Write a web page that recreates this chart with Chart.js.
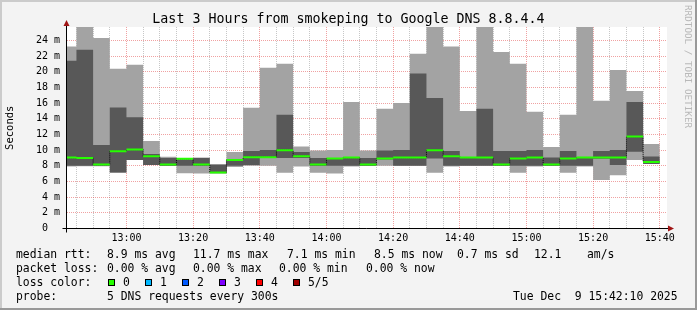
<!DOCTYPE html>
<html>
<head>
<meta charset="utf-8">
<script src="https://cdn.jsdelivr.net/npm/chart.js@4.4.1/dist/chart.umd.min.js"></script>
<style>
  html, body { margin: 0; padding: 0; background: #f3f3f3; }
  #wrap { position: relative; width: 697px; height: 310px; overflow: hidden; font-family: "DejaVu Sans Mono", monospace; color: #000; }
  #wrap canvas { position: absolute; left: 0; top: 0; }
  .t { position: absolute; white-space: pre; font-size: 11.4px; line-height: 14px; }
  #title { position: absolute; left: 0; top: 11px; width: 697px; text-align: center; font-size: 13.3px; line-height: 16px; white-space: pre; }
  #credit { position: absolute; left: 683px; top: 5px; writing-mode: vertical-rl; font-size: 9.3px; color: #b8b8b8; white-space: pre; }
  .box { position: absolute; top: 279px; width: 5px; height: 5px; border: 1px solid #000; }
</style>
</head>
<body>
<div id="wrap">
  <canvas id="smoke" width="697" height="310"></canvas>
  <div id="title">Last 3 Hours from smokeping to Google DNS 8.8.4.4</div>
  <div id="credit">RRDTOOL / TOBI OETIKER</div>
  <div id="legend"></div>
</div>
<script>
// Time window of the graph (rrd end = 15:42:10)
const axisStart = '12:42:10';
const axisEnd = '15:42:10';

// Each bar is one 5 minute step, labelled by its end time
const slotEnd = ['12:45', '12:50', '12:55', '13:00', '13:05', '13:10', '13:15', '13:20', '13:25',
    '13:30', '13:35', '13:40', '13:45', '13:50', '13:55', '14:00', '14:05', '14:10', '14:15',
    '14:20', '14:25', '14:30', '14:35', '14:40', '14:45', '14:50', '14:55', '15:00', '15:05',
    '15:10', '15:15', '15:20', '15:25', '15:30', '15:35', '15:40'];

// Sorted pings per step, in ms (min, 2nd, median, 4th, max)
const pingMin = [7.9, 7.95, 7.95, 7.1, 8.75, 8.1, 8.0, 7.05, 7.0, 7.05, 7.85, 8.0, 8.0, 7.1, 7.9, 7.1, 7.0, 7.9,
    8.0, 8.0, 8.0, 8.0, 7.1, 7.9, 8.0, 8.0, 8.0, 7.1, 7.9, 8.0, 7.1, 7.9, 6.2, 6.8, 8.75, 8.23];
const pingLow = [8.0, 8.0, 8.0, 7.13, 8.75, 8.1, 8.0, 8.0, 8.0, 7.05, 8.0, 8.1, 9.0, 9.0, 9.0, 8.0, 8.0, 8.0,
    8.0, 8.8, 8.0, 8.0, 8.93, 8.0, 8.0, 8.0, 8.0, 8.0, 8.0, 8.0, 8.0, 8.0, 8.9, 8.1, 9.8, 8.23];
const median = [9.04, 9.0, 8.15, 9.85, 10.07, 9.2, 8.15, 8.9, 8.15, 7.15, 8.75, 9.08, 9.08, 9.98, 9.2, 8.15, 8.93, 9.04,
    8.15, 8.93, 9.04, 9.04, 9.98, 9.2, 9.05, 9.06, 8.15, 8.93, 9.06, 8.15, 8.93, 9.06, 9.06, 9.06, 11.72, 8.49];
const pingHigh = [21.4, 22.8, 10.66, 15.43, 14.2, 9.5, 9.0, 8.8, 9.0, 8.15, 8.8, 9.9, 10.0, 14.5, 9.77, 9.0, 9.0, 9.1,
    9.0, 9.94, 10.0, 19.77, 16.66, 9.9, 9.1, 15.26, 9.9, 9.9, 10.0, 9.06, 9.9, 9.1, 9.9, 10.0, 16.15, 9.17];
const pingMax = [23.2, 28.0, 24.3, 20.36, 20.9, 11.17, 9.15, 9.0, 9.04, 8.15, 9.77, 15.4, 20.5, 21.0, 10.45, 9.94, 10.0, 16.15,
    9.94, 15.26, 16.0, 22.28, 28.0, 23.2, 15.0, 28.0, 22.5, 21.0, 14.9, 10.4, 14.5, 28.0, 16.28, 20.23, 17.55, 10.79];

// Axis ticks
const yMax = 25.7;
const yMajor = [0, 2, 4, 6, 8, 10, 12, 14, 16, 18, 20, 22, 24];
const yLabels = ['0  ', '2 m', '4 m', '6 m', '8 m', '10 m', '12 m', '14 m', '16 m', '18 m', '20 m', '22 m', '24 m'];
const yMinor = [1, 3, 5, 7, 9, 11, 13, 15, 17, 19, 21, 23, 25];
const xMajor = ['13:00', '13:20', '13:40', '14:00', '14:20', '14:40', '15:00', '15:20', '15:40'];
const xMinor = ['12:45', '12:50', '12:55', '13:05', '13:10', '13:15', '13:25', '13:30', '13:35', '13:45', '13:50', '13:55',
    '14:05', '14:10', '14:15', '14:25', '14:30', '14:35', '14:45', '14:50', '14:55', '15:05', '15:10', '15:15',
    '15:25', '15:30', '15:35'];

// Legend block
const legendRows = [
    { y: 247, parts: [[16, 'median rtt:'], [107, '8.9 ms avg'], [193, '11.7 ms max'], [287, '7.1 ms min'],
        [374, '8.5 ms now'], [457, '0.7 ms sd'], [534, '12.1'], [587, 'am/s']] },
    { y: 261, parts: [[16, 'packet loss:'], [107, '0.00 % avg'], [193, '0.00 % max'], [279, '0.00 % min'], [366, '0.00 % now']] },
    { y: 275, parts: [[16, 'loss color:']] },
    { y: 289, parts: [[16, 'probe:'], [107, '5 DNS requests every 300s'], [513, 'Tue Dec  9 15:42:10 2025']] }
];
const lossLabels = ['0', '1', '2', '3', '4', '5/5'];
const lossColors = ['#26ff00', '#00b8ff', '#0059ff', '#7e00ff', '#ff0000', '#a10000'];

const FONT = '"DejaVu Sans Mono", monospace';
const MAJOR = 'rgba(222, 48, 48, 0.45)';
const MINOR = 'rgba(143, 143, 143, 0.5)';

function toMin(s) {
    const p = s.split(':').map(Number);
    return p[0] * 60 + p[1] + (p[2] || 0) / 60;
}

/* ------------------ STEP SHAPES ------------------ */
function band(values) {
    const pts = [];
    values.forEach((v, i) => {
        const start = i === 0 ? toMin(axisStart) : toMin(slotEnd[i - 1]);
        pts.push({ x: start, y: v }, { x: toMin(slotEnd[i]), y: v });
    });
    return pts;
}

// same steps but with breaks, so only the flat parts get drawn
function flats(values) {
    const pts = [];
    values.forEach((v, i) => {
        const start = i === 0 ? toMin(axisStart) : toMin(slotEnd[i - 1]);
        const end = toMin(slotEnd[i]);
        pts.push({ x: start, y: v }, { x: end, y: v }, { x: end, y: null });
    });
    return pts;
}

/* ------------------ FRAME / AXES ------------------ */
const rrdFrame = {
    id: 'rrdFrame',
    beforeDraw(chart) {
        const { ctx, width, height, chartArea: a } = chart;
        ctx.save();
        ctx.fillStyle = '#f3f3f3';
        ctx.fillRect(0, 0, width, height);
        ctx.fillStyle = '#cbcbcb';
        ctx.fillRect(0, 0, width, 2);
        ctx.fillRect(0, 0, 2, height);
        ctx.fillStyle = '#999999';
        ctx.fillRect(0, height - 2, width, 2);
        ctx.fillRect(width - 2, 0, 2, height);
        ctx.fillStyle = '#ffffff';
        ctx.fillRect(a.left, a.top, a.right - a.left, a.bottom - a.top);
        ctx.restore();
    },
    afterDraw(chart) {
        const { ctx, chartArea: a } = chart;
        const x0 = Math.round(a.left) - 0.5;
        const y0 = Math.round(a.bottom) - 0.5;
        ctx.save();
        ctx.strokeStyle = '#000';
        ctx.lineWidth = 1;
        ctx.beginPath();
        ctx.moveTo(x0, y0 + 4);
        ctx.lineTo(x0, a.top - 5);
        ctx.moveTo(x0 - 4, y0);
        ctx.lineTo(a.right + 3, y0);
        ctx.stroke();
        ctx.fillStyle = '#a01515';
        ctx.beginPath();
        ctx.moveTo(x0, a.top - 7);
        ctx.lineTo(x0 - 3, a.top - 1);
        ctx.lineTo(x0 + 3, a.top - 1);
        ctx.closePath();
        ctx.fill();
        ctx.beginPath();
        ctx.moveTo(a.right + 7, y0);
        ctx.lineTo(a.right + 1, y0 - 3);
        ctx.lineTo(a.right + 1, y0 + 3);
        ctx.closePath();
        ctx.fill();
        ctx.restore();
    }
};

/* ------------------ LEGEND ------------------ */
const legendEl = document.getElementById('legend');
legendRows.forEach(row => {
    row.parts.forEach(([x, text]) => {
        const s = document.createElement('div');
        s.className = 't';
        s.style.left = x + 'px';
        s.style.top = row.y + 'px';
        s.textContent = text;
        legendEl.appendChild(s);
    });
});
lossLabels.forEach((label, i) => {
    const b = document.createElement('div');
    b.className = 'box';
    b.style.left = (108 + i * 37) + 'px';
    b.style.background = lossColors[i];
    legendEl.appendChild(b);
    const s = document.createElement('div');
    s.className = 't';
    s.style.left = (123 + i * 37) + 'px';
    s.style.top = '275px';
    s.textContent = label;
    legendEl.appendChild(s);
});

/* ------------------ CHART ------------------ */
const hidden = { borderColor: 'transparent', borderWidth: 0, pointRadius: 0 };

new Chart(document.getElementById('smoke'), {
    type: 'line',
    data: {
        datasets: [
            { label: 'min', data: band(pingMin), ...hidden, fill: false, order: 6 },
            { label: 'max', data: band(pingMax), ...hidden, fill: 0, backgroundColor: '#a3a3a3', order: 5 },
            { label: 'low', data: band(pingLow), ...hidden, fill: false, order: 4 },
            { label: 'high', data: band(pingHigh), ...hidden, fill: 2, backgroundColor: '#585858', order: 3 },
            { label: 'median', data: band(median), borderColor: '#000', borderWidth: 1, borderDash: [1, 1], pointRadius: 0, fill: false, order: 2 },
            { label: 'median loss 0', data: flats(median), borderColor: '#26ff00', borderWidth: 2, pointRadius: 0, fill: false, spanGaps: false, order: 1 }
        ]
    },
    options: {
        responsive: false,
        animation: false,
        devicePixelRatio: 1,
        events: [],
        layout: { padding: { top: 27, right: 30, bottom: 59.5, left: 0 } },
        plugins: {
            legend: { display: false },
            tooltip: { enabled: false },
            title: { display: false }
        },
        scales: {
            x: {
                type: 'linear',
                min: toMin(axisStart),
                max: toMin(axisEnd),
                afterBuildTicks: s => {
                    s.ticks = xMajor.concat(xMinor).map(t => ({ value: toMin(t) })).sort((a, b) => a.value - b.value);
                },
                afterFit: s => { s.height = 22; },
                grid: {
                    color: c => (c.tick && xMajor.some(t => toMin(t) === c.tick.value)) ? MAJOR : MINOR,
                    lineWidth: 1,
                    drawTicks: true,
                    tickLength: 2,
                    tickColor: 'transparent'
                },
                border: { display: false, dash: [1, 1] },
                ticks: {
                    autoSkip: false,
                    maxRotation: 0,
                    padding: 2,
                    color: '#000',
                    font: { family: FONT, size: 10 },
                    callback: v => xMajor.find(t => toMin(t) === v) || ''
                }
            },
            y: {
                type: 'linear',
                min: 0,
                max: yMax,
                afterBuildTicks: s => {
                    s.ticks = yMajor.concat(yMinor).sort((a, b) => a - b).map(v => ({ value: v }));
                },
                afterFit: s => { s.width = 67; },
                grid: {
                    color: c => (c.tick && yMajor.includes(c.tick.value)) ? MAJOR : MINOR,
                    lineWidth: 1,
                    drawTicks: true,
                    tickLength: 3,
                    tickColor: 'transparent'
                },
                border: { display: false, dash: [1, 1] },
                ticks: {
                    padding: 4,
                    color: '#000',
                    font: { family: FONT, size: 10 },
                    callback: v => {
                        const i = yMajor.indexOf(v);
                        return i >= 0 ? yLabels[i] : '';
                    }
                },
                title: {
                    display: true,
                    text: 'Seconds',
                    color: '#000',
                    font: { family: FONT, size: 10.5 },
                    padding: { top: 4, bottom: 0 }
                }
            }
        }
    },
    plugins: [rrdFrame]
});
</script>
</body>
</html>
